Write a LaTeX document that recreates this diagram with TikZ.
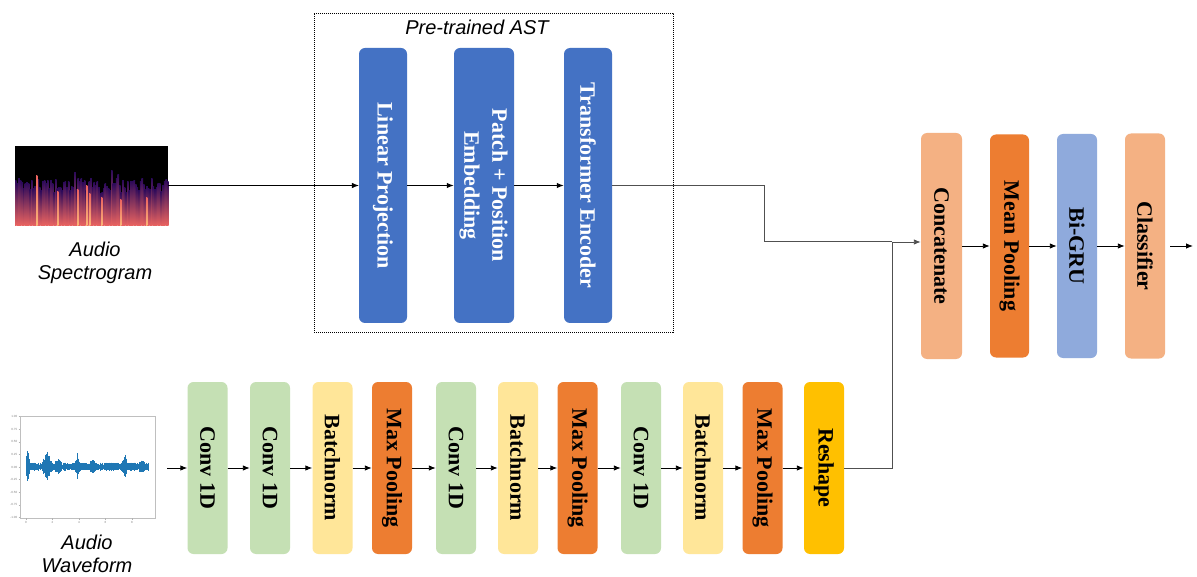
\documentclass[tikz,border=0pt]{standalone}
\usepackage{fontspec}
\usepackage{graphicx}
\setmainfont{Liberation Serif}
\newfontfamily\lsans{Liberation Sans}
\usetikzlibrary{arrows.meta}
\definecolor{astblue}{HTML}{4472C4}
\definecolor{lorange}{HTML}{F4B183}
\definecolor{dorange}{HTML}{ED7D31}
\definecolor{grublue}{HTML}{8FAADC}
\definecolor{convgreen}{HTML}{C5E0B4}
\definecolor{bnyellow}{HTML}{FFE699}
\definecolor{rsgold}{HTML}{FFC000}
\definecolor{magA}{HTML}{2D0A5A}
\definecolor{magB}{HTML}{962C82}
\definecolor{magC}{HTML}{EC6460}
\definecolor{magD}{HTML}{FBB878}
\definecolor{waveblue}{HTML}{1F77B4}
\definecolor{lngray}{HTML}{505050}
\newcommand{\vtxt}[1]{\rotatebox{-90}{#1}}
\tikzset{
  blk/.style={rounded corners=6pt, inner sep=0pt, draw=none,
    font=\bfseries\fontsize{22}{28}\selectfont, minimum width=40pt},
  bot/.style={blk, minimum height=172pt},
  astbox/.style={blk, fill=astblue, text=white, minimum height=275pt, minimum width=48pt},
  rgt/.style={blk, minimum height=225pt},
  arr/.style={-{Latex[length=7pt,width=5.5pt]}, line width=0.9pt, black},
  ln/.style={line width=1pt, lngray},
  captxt/.style={font=\lsans\itshape\fontsize{20}{23}\selectfont, align=center},
  ticklbl/.style={font=\lsans\fontsize{3}{3}\selectfont, text=gray, inner sep=0pt},
}
\begin{document}
\begin{tikzpicture}[x=1pt,y=-1pt]
\useasboundingbox (0,0) rectangle (1197,577);
\fill[white] (0,0) rectangle (1197,577);

% dashed AST frame
\node[draw, dash pattern=on 1.2pt off 0.8pt, line width=0.5pt, minimum width=359pt,
  minimum height=319pt, inner sep=0pt] (ast) at (493.5,172.5) {};
\node[font=\lsans\itshape\fontsize{20}{22}\selectfont] (ttl) at (477,27) {Pre-trained AST};

% AST blocks
\node[astbox] (lin) at (383,185.5) {\vtxt{Linear Projection}};
\node[astbox, minimum width=60pt] (pat) at (484,185.5) {\vtxt{\begin{tabular}{@{}c@{}}Patch + Position\\Embedding\end{tabular}}};
\node[astbox] (tr) at (588,185.5) {\vtxt{Transformer Encoder}};

% spectrogram
\node[minimum width=153pt, minimum height=79pt, inner sep=0pt] (spec) at (91.5,185.5) {};
\fill[black] (spec.north west) rectangle (spec.south east);
\pgfmathsetseed{11}
\foreach \i in {0,...,95}{
  \pgfmathsetmacro\xa{15+1.6*\i}
  \pgfmathsetmacro\xb{\xa+1.6}
  \pgfmathsetmacro\tp{178+16*rnd-8*(rnd>0.85)}
  \shade[top color=magA, middle color=magB, bottom color=magC] (\xa,\tp) rectangle (\xb,226);
}
\foreach \xs/\ts in {36/176, 57/192, 77/190, 86/186, 89/194, 101/198, 120/200, 146/198}{
  \shade[top color=magC, bottom color=magD] (\xs,\ts) rectangle (\xs+1.4,226);
}
\node[captxt] (specl) at (95,263) {Audio\\Spectrogram};

% waveform plot
\node[minimum width=135pt, minimum height=102pt, inner sep=0pt] (wave) at (87.5,467) {};
\draw[gray!50, line width=0.4pt] (wave.north west) rectangle (wave.south east);
\foreach \v/\yy in {1.00/416.5, 0.75/429.1, 0.50/441.8, 0.25/454.4, 0.00/467, -0.25/479.6, -0.50/492.2, -0.75/504.9, -1.00/517.5}{
  \node[ticklbl, anchor=east] at (17.5,\yy) {\v};
  \draw[gray!60, line width=0.3pt] (18.5,\yy) -- (20,\yy);
}
\foreach \v/\xx in {0/26, 2/52.5, 4/79, 6/105.5, 8/132}{
  \node[ticklbl, anchor=north] at (\xx,521) {\v};
  \draw[gray!60, line width=0.3pt] (\xx,518) -- (\xx,519.5);
}
\pgfmathsetseed{5}
\foreach \i in {0,...,244}{
  \pgfmathsetmacro\xw{26+0.5*\i}
  \pgfmathsetmacro\env{20*max(0,1-abs(\xw-27.5)/2.5)+16*max(0,1-abs(\xw-47)/5)+6*max(0,1-abs(\xw-58)/4)+10*max(0,1-abs(\xw-77)/3)+5*max(0,1-abs(\xw-92)/5)+9*max(0,1-abs(\xw-125)/4)+4*max(0,1-abs(\xw-142)/4)}
  \pgfmathsetmacro\am{2+2.5*rnd+\env*(0.3+0.7*rnd)}
  \draw[waveblue, line width=0.5pt] (\xw,467-\am) -- (\xw,467+0.85*\am);
}
\node[captxt] (wavel) at (87,553.5) {Audio\\Waveform};

% bottom CNN row
\node[bot, fill=convgreen] (c1) at (207.5,468) {\vtxt{Conv 1D}};
\node[bot, fill=convgreen] (c2) at (270,468) {\vtxt{Conv 1D}};
\node[bot, fill=bnyellow] (b1) at (332.5,468) {\vtxt{Batchnorm}};
\node[bot, fill=dorange] (m1) at (392,468) {\vtxt{Max Pooling}};
\node[bot, fill=convgreen] (c3) at (456,468) {\vtxt{Conv 1D}};
\node[bot, fill=bnyellow] (b2) at (518,468) {\vtxt{Batchnorm}};
\node[bot, fill=dorange] (m2) at (577.5,468) {\vtxt{Max Pooling}};
\node[bot, fill=convgreen] (c4) at (641,468) {\vtxt{Conv 1D}};
\node[bot, fill=bnyellow] (b3) at (703,468) {\vtxt{Batchnorm}};
\node[bot, fill=dorange] (m3) at (762.5,468) {\vtxt{Max Pooling}};
\node[bot, fill=rsgold] (rs) at (824,468) {\vtxt{Reshape}};

% right column
\node[rgt, fill=lorange, minimum width=41pt, minimum height=226pt] (cat) at (941.5,246) {\vtxt{Concatenate}};
\node[rgt, fill=dorange, minimum width=39pt, minimum height=223pt] (mp) at (1009.5,246) {\vtxt{Mean Pooling}};
\node[rgt, fill=grublue, minimum height=224pt] (gru) at (1077,246) {\vtxt{Bi-GRU}};
\node[rgt, fill=lorange] (cls) at (1145,246) {\vtxt{Classifier}};

% junction points
\coordinate (j1) at (764,242);
\coordinate (j2) at (892,242);
\coordinate (out) at (1193,246);

% connectors
\draw[arr, line width=0.7pt] (spec.east) -- (lin.west);
\draw[arr, line width=1.1pt] (lin.east) -- (pat.west);
\draw[arr, line width=1.1pt] (pat.east) -- (tr.west);
\draw[ln] (tr.east) -| (j1) -- (j2);
\draw[arr, lngray] (j2) -- (cat.west |- j2);
\draw[ln] (rs.east) -| (j2);

\draw[arr, shorten <=12pt] (wave.east |- c1.west) -- (c1.west);
\draw[arr] (c1.east) -- (c2.west);
\draw[arr] (c2.east) -- (b1.west);
\draw[arr] (b1.east) -- (m1.west);
\draw[arr] (m1.east) -- (c3.west);
\draw[arr] (c3.east) -- (b2.west);
\draw[arr] (b2.east) -- (m2.west);
\draw[arr] (m2.east) -- (c4.west);
\draw[arr] (c4.east) -- (b3.west);
\draw[arr] (b3.east) -- (m3.west);
\draw[arr] (m3.east) -- (rs.west);

\draw[arr] (cat.east) -- (mp.west);
\draw[arr] (mp.east) -- (gru.west);
\draw[arr] (gru.east) -- (cls.west);
\draw[arr, shorten <=5pt] (cls.east) -- (out);
\end{tikzpicture}
\end{document}
